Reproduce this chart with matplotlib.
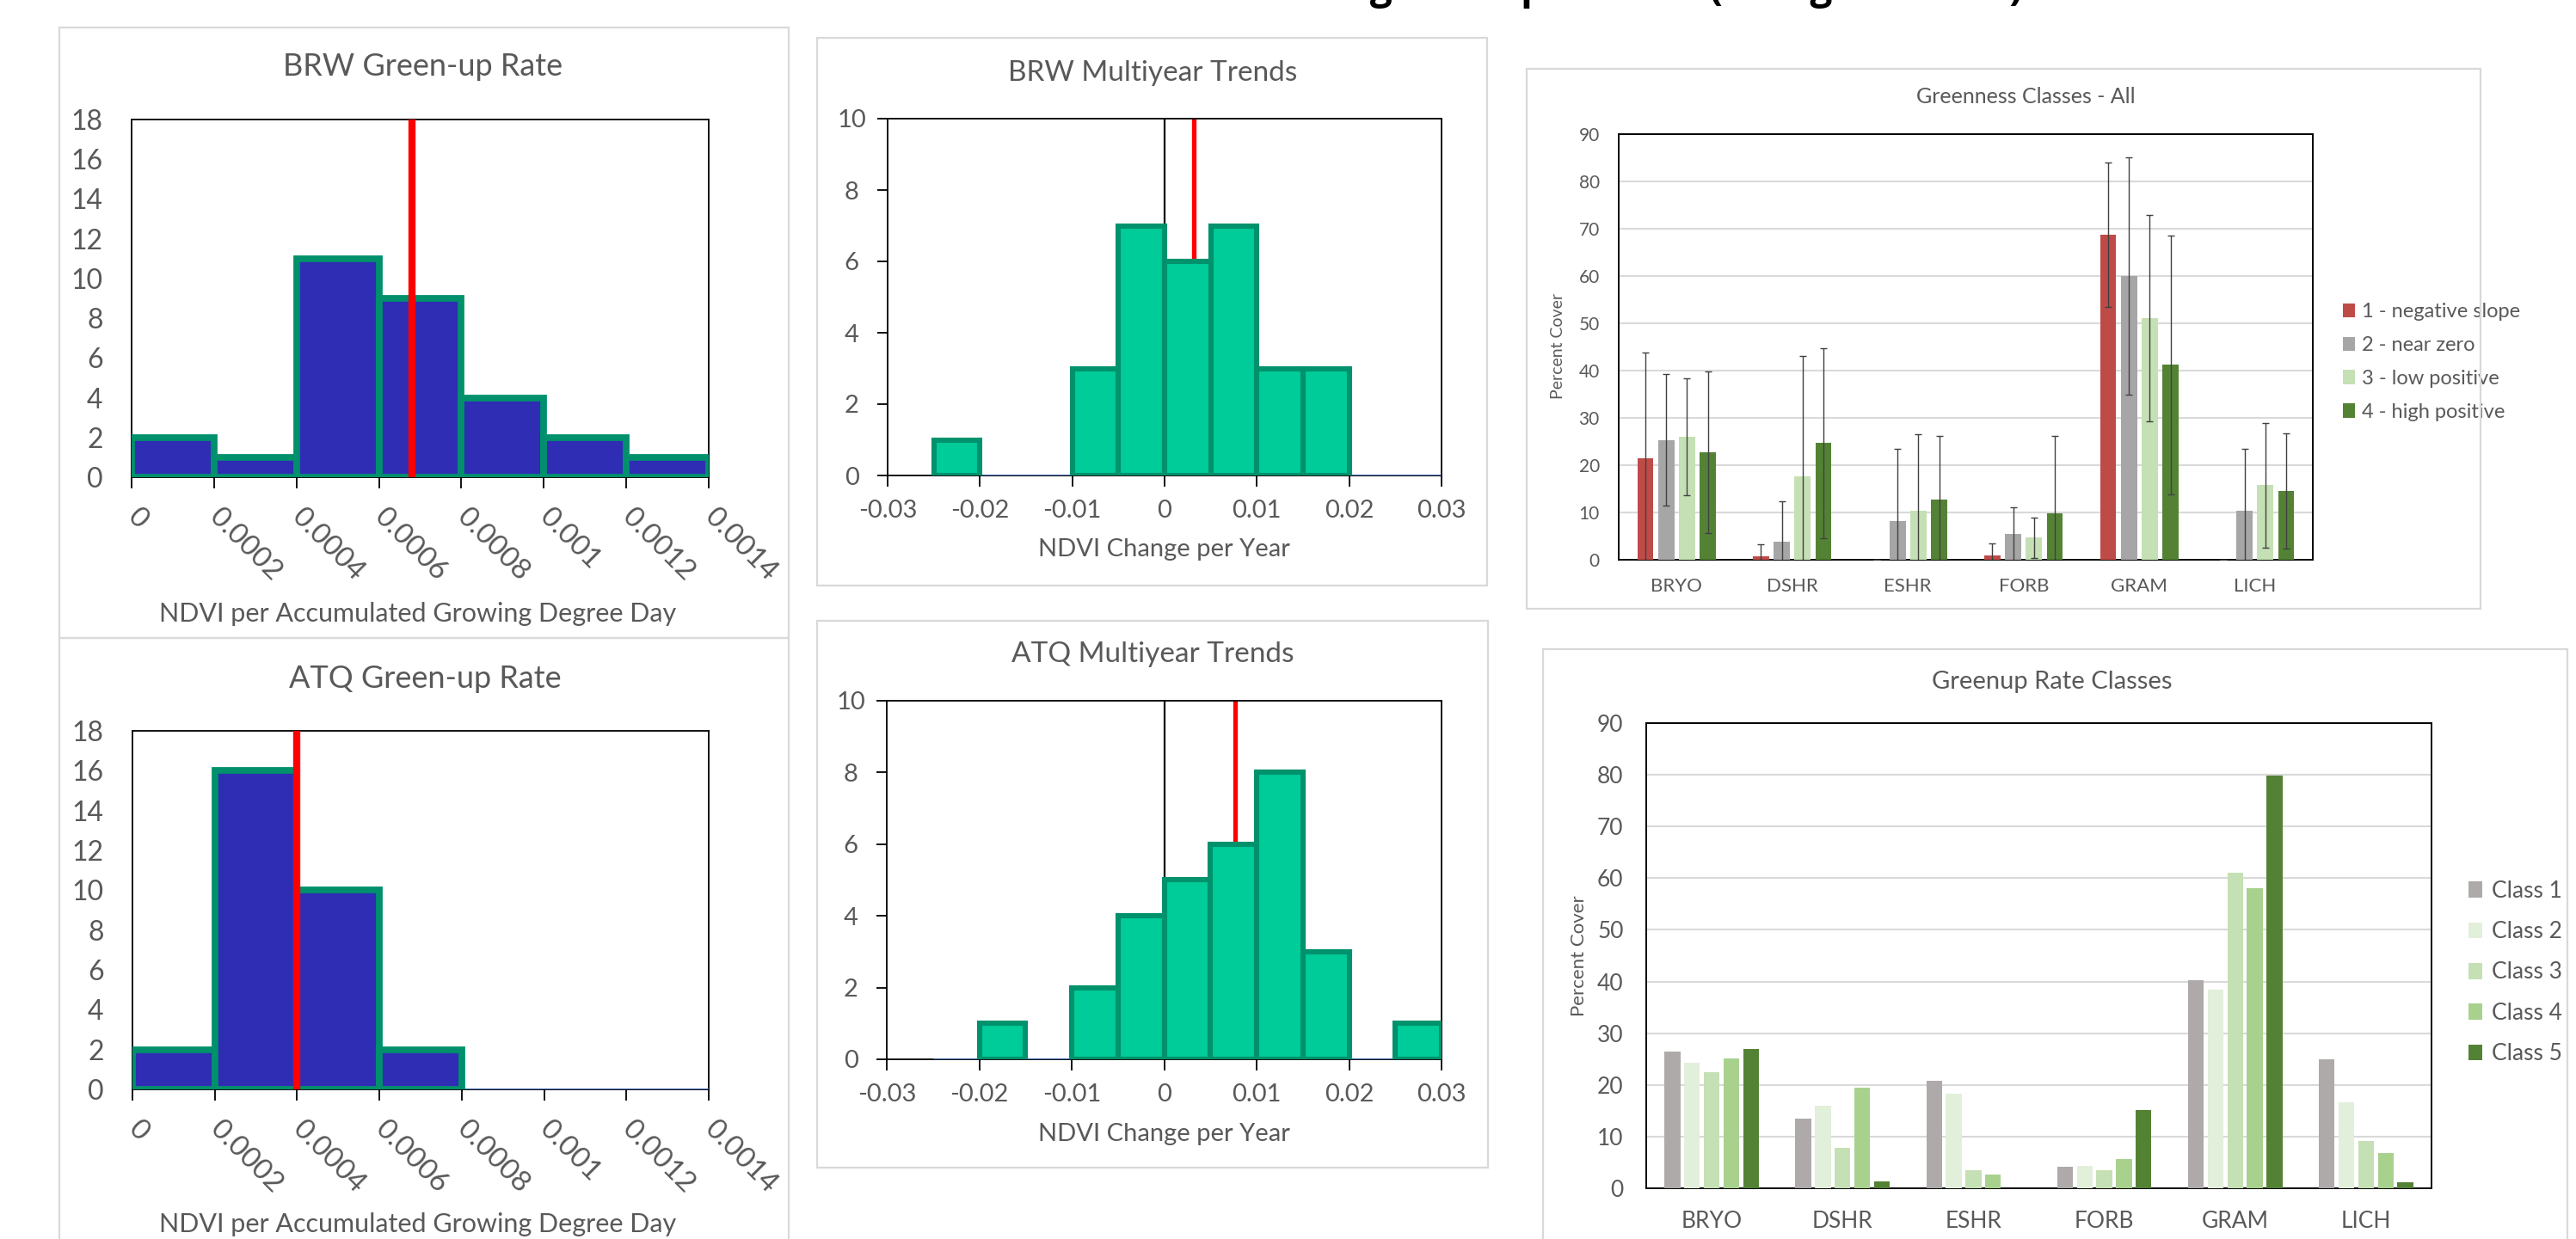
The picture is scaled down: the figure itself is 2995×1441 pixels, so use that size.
import numpy as np
import matplotlib
matplotlib.use("Agg")
import matplotlib.pyplot as plt
from matplotlib.patches import Rectangle

# ---------------- data ----------------
rate_edges = [0, 0.0002, 0.0004, 0.0006, 0.0008, 0.001, 0.0012, 0.0014]
rate_ticklabels = ["0", "0.0002", "0.0004", "0.0006", "0.0008", "0.001", "0.0012", "0.0014"]
brw_rate_counts = [2, 1, 11, 9, 4, 2, 1]
atq_rate_counts = [2, 16, 10, 2, 0, 0, 0]
brw_rate_mean = 0.00068
atq_rate_mean = 0.0004

trend_edges = [-0.025, -0.02, -0.015, -0.01, -0.005, 0, 0.005, 0.01, 0.015, 0.02, 0.025, 0.03]
trend_ticks = [-0.03, -0.02, -0.01, 0, 0.01, 0.02, 0.03]
trend_ticklabels = ["-0.03", "-0.02", "-0.01", "0", "0.01", "0.02", "0.03"]
brw_trend_counts = [1, 0, 0, 3, 7, 6, 7, 3, 3, 0, 0]
atq_trend_counts = [0, 1, 0, 2, 4, 5, 6, 8, 3, 0, 1]
brw_trend_mean = 0.0032
atq_trend_mean = 0.0077

veg_types = ["BRYO", "DSHR", "ESHR", "FORB", "GRAM", "LICH"]

green_labels = ["1 - negative slope", "2 - near zero", "3 - low positive", "4 - high positive"]
green_neg = [21.4, 0.8, 0.0, 1.0, 68.7, 0.0]
green_zero = [25.3, 3.9, 8.2, 5.4, 60.0, 10.3]
green_low = [26.0, 17.7, 10.3, 4.7, 51.1, 15.8]
green_high = [22.7, 24.7, 12.7, 9.9, 41.2, 14.6]
green_neg_err = [22.5, 2.5, 0.0, 2.4, 15.3, 0.0]
green_zero_err = [13.9, 8.4, 15.2, 5.7, 25.1, 13.1]
green_low_err = [12.3, 25.4, 16.3, 4.3, 21.9, 13.2]
green_high_err = [17.1, 20.1, 13.4, 16.2, 27.3, 12.2]

rate_labels = ["Class 1", "Class 2", "Class 3", "Class 4", "Class 5"]
rate_c1 = [26.4, 13.4, 20.8, 4.1, 40.3, 24.9]
rate_c2 = [24.3, 15.9, 18.3, 4.3, 38.5, 16.6]
rate_c3 = [22.4, 7.8, 3.5, 3.5, 61.1, 9.1]
rate_c4 = [25.2, 19.5, 2.7, 5.6, 58.0, 6.9]
rate_c5 = [26.9, 1.3, 0.0, 15.2, 79.9, 1.1]

# ---------------- figure ----------------
W, H = 2995, 1441
fig = plt.figure(figsize=(W / 100, H / 100), dpi=100, facecolor="white")
BASE = ["Lato", "DejaVu Sans"]
plt.rcParams["font.family"] = BASE
TXT = "#595959"


def fx(px):
    return px / W


def fy(py):
    return 1 - py / H


def ax_at(l, t, r, b):
    return fig.add_axes([l / W, 1 - b / H, (r - l) / W, (b - t) / H])


def panel(l, t, r, b):
    fig.add_artist(Rectangle((l / W, 1 - b / H), (r - l) / W, (b - t) / H,
                             transform=fig.transFigure, fill=False,
                             ec="#D9D9D9", lw=1.6))


# panel frames
panel(69, 32, 917, 742)
panel(69, 742, 917, 1460)
panel(950, 44, 1729, 681)
panel(950, 722, 1730, 1358)
panel(1775, 80, 2884, 708)
panel(1794, 755, 2985, 1460)

# main title, cut off at the top edge in the reference (only descenders visible)
fig.text(fx(2352), 1.0 + 1.5 / H, "Cover in Greenness Trend and green-up Classes (Using Medians)",
         ha="right", va="baseline", fontsize=33, fontweight="bold",
         color="black", family=["Open Sans", "DejaVu Sans"])


def style_box(ax, lw=1.3):
    for s in ax.spines.values():
        s.set_color("black")
        s.set_linewidth(lw)


def rate_hist(ax, counts, mean):
    edges = np.array(rate_edges)
    counts = np.array(counts)
    widths = np.diff(edges)
    m = counts > 0
    ax.hlines(0, edges[0], edges[-1], color="#4472C4", lw=2.0, zorder=2.8)
    ax.bar(edges[:-1][m], counts[m], width=widths[m], align="edge",
           color="#2E2DB4", edgecolor="#00906C", linewidth=5.6, zorder=3)
    ax.vlines(mean, 0, 18, color="#FF0000", lw=6.0, zorder=4)
    ax.set_xlim(0, 0.0014)
    ax.set_ylim(0, 18)
    ax.set_yticks(np.arange(0, 19, 2))
    ax.set_xticks(edges)
    ax.set_xticklabels(rate_ticklabels)
    ax.tick_params(axis="y", length=0, pad=24, labelsize=23, labelcolor=TXT)
    ax.tick_params(axis="x", length=9, width=1.3, direction="out", pad=21,
                   labelsize=24, labelcolor=TXT)
    plt.setp(ax.get_xticklabels(), rotation=-45, ha="left", va="center",
             rotation_mode="anchor")
    style_box(ax)


def trend_hist(ax, counts, mean):
    edges = np.array(trend_edges)
    counts = np.array(counts)
    widths = np.diff(edges)
    m = counts > 0
    ax.axvline(0, color="black", lw=1.6, zorder=2)
    ax.vlines(mean, 0, 10, color="#FF0000", lw=3.8, zorder=2.2)
    ax.hlines(0, edges[0], edges[-1], color="#4472C4", lw=2.0, zorder=2.8)
    ax.bar(edges[:-1][m], counts[m], width=widths[m], align="edge",
           color="#00CC99", edgecolor="#00926C", linewidth=4.4, zorder=3)
    ax.set_xlim(-0.03, 0.03)
    ax.set_ylim(0, 10)
    ax.set_yticks(np.arange(0, 11, 2))
    ax.set_xticks(trend_ticks)
    ax.set_xticklabels(trend_ticklabels)
    ax.tick_params(axis="y", length=9, width=1.3, direction="out", pad=21,
                   labelsize=21, labelcolor=TXT)
    ax.tick_params(axis="x", length=9, width=1.3, direction="out", pad=11,
                   labelsize=21, labelcolor=TXT)
    for t in ax.get_yticklabels():
        t.set_ha("center")
    style_box(ax)


# Panel 1: BRW Green-up Rate
ax1 = ax_at(153, 139, 824, 555)
rate_hist(ax1, brw_rate_counts, brw_rate_mean)
fig.text(fx(492), fy(78), "BRW Green-up Rate", ha="center", va="center",
         fontsize=26, color=TXT)
fig.text(fx(486), fy(714), "NDVI per Accumulated Growing Degree Day",
         ha="center", va="center", fontsize=22, color=TXT)

# Panel 3: ATQ Green-up Rate
ax3 = ax_at(154, 850, 824, 1267)
rate_hist(ax3, atq_rate_counts, atq_rate_mean)
fig.text(fx(494), fy(789), "ATQ Green-up Rate", ha="center", va="center",
         fontsize=26, color=TXT)
fig.text(fx(486), fy(1424), "NDVI per Accumulated Growing Degree Day",
         ha="center", va="center", fontsize=22, color=TXT)

# Panel 2: BRW Multiyear Trends
ax2 = ax_at(1032, 138, 1676, 553)
trend_hist(ax2, brw_trend_counts, brw_trend_mean)
fig.text(fx(1340), fy(85), "BRW Multiyear Trends", ha="center", va="center",
         fontsize=24, color=TXT)
fig.text(fx(1353), fy(639), "NDVI Change per Year", ha="center", va="center",
         fontsize=21, color=TXT)

# Panel 4: ATQ Multiyear Trends
ax4 = ax_at(1031, 815, 1676, 1232)
trend_hist(ax4, atq_trend_counts, atq_trend_mean)
fig.text(fx(1340), fy(761), "ATQ Multiyear Trends", ha="center", va="center",
         fontsize=24, color=TXT)
fig.text(fx(1353), fy(1319), "NDVI Change per Year", ha="center", va="center",
         fontsize=21, color=TXT)


def class_bars(ax, series, errs, labels, colors, step, width):
    x = np.arange(len(veg_types))
    n = len(series)
    handles = []
    for i, vals in enumerate(series):
        pos = x + (i - (n - 1) / 2) * step
        kw = {}
        if errs is not None:
            kw = dict(yerr=errs[i],
                      error_kw=dict(ecolor="#404040", elinewidth=1.0,
                                    capsize=3, capthick=1.0, zorder=4))
        b = ax.bar(pos, vals, width=width, color=colors[i], zorder=3,
                   label=labels[i], **kw)
        handles.append(b)
    ax.set_xlim(-0.5, len(veg_types) - 0.5)
    ax.set_ylim(0, 90)
    ax.set_yticks(np.arange(0, 91, 10))
    ax.set_xticks(x)
    ax.set_xticklabels(veg_types)
    for yv in range(10, 90, 10):
        ax.axhline(yv, color="#D9D9D9", lw=1.5, zorder=1)
    style_box(ax, lw=1.4)
    return handles


# Panel 5: Greenness Classes - All
ax5 = ax_at(1882, 156, 2689, 651)
h5 = class_bars(ax5, [green_neg, green_zero, green_low, green_high],
                [green_neg_err, green_zero_err, green_low_err, green_high_err],
                green_labels, ["#BE4B48", "#A6A6A6", "#C5E0B4", "#548235"],
                step=0.18, width=0.14)
ax5.tick_params(axis="y", length=0, pad=16, labelsize=15, labelcolor=TXT)
ax5.tick_params(axis="x", length=0, pad=15, labelsize=16, labelcolor=TXT)
ax5.text(-0.087, 0.503, "Percent Cover", transform=ax5.transAxes, rotation=90,
         ha="center", va="center", fontsize=14, color=TXT)
fig.text(fx(2355), fy(113), "Greenness Classes - All", ha="center", va="center",
         fontsize=18, color=TXT)
leg5 = ax5.legend(handles=h5, loc="center left", bbox_to_anchor=(fx(2712), fy(421)),
                  bbox_transform=fig.transFigure, frameon=False, borderpad=0,
                  handlelength=0.6, handleheight=0.7, handletextpad=0.35,
                  labelspacing=0.75, prop={"size": 17})
for t in leg5.get_texts():
    t.set_color(TXT)

# Panel 6: Greenup Rate Classes
ax6 = ax_at(1914, 841, 2827, 1382)
h6 = class_bars(ax6, [rate_c1, rate_c2, rate_c3, rate_c4, rate_c5], None,
                rate_labels, ["#AEAAAA", "#E2EFDA", "#C5E0B4", "#A9D18E", "#548235"],
                step=0.15, width=0.12)
ax6.tick_params(axis="y", length=0, pad=19, labelsize=19, labelcolor=TXT)
ax6.tick_params(axis="x", length=0, pad=19, labelsize=19, labelcolor=TXT)
ax6.text(-0.085, 0.499, "Percent Cover", transform=ax6.transAxes, rotation=90,
         ha="center", va="center", fontsize=16, color=TXT)
fig.text(fx(2386), fy(793), "Greenup Rate Classes", ha="center", va="center",
         fontsize=21, color=TXT)
leg6 = ax6.legend(handles=h6, loc="center left", bbox_to_anchor=(fx(2857), fy(1131)),
                  bbox_transform=fig.transFigure, frameon=False, borderpad=0,
                  handlelength=0.6, handleheight=0.7, handletextpad=0.4,
                  labelspacing=0.85, prop={"size": 19})
for t in leg6.get_texts():
    t.set_color(TXT)

fig.savefig("out.png", dpi=100, facecolor="white")
